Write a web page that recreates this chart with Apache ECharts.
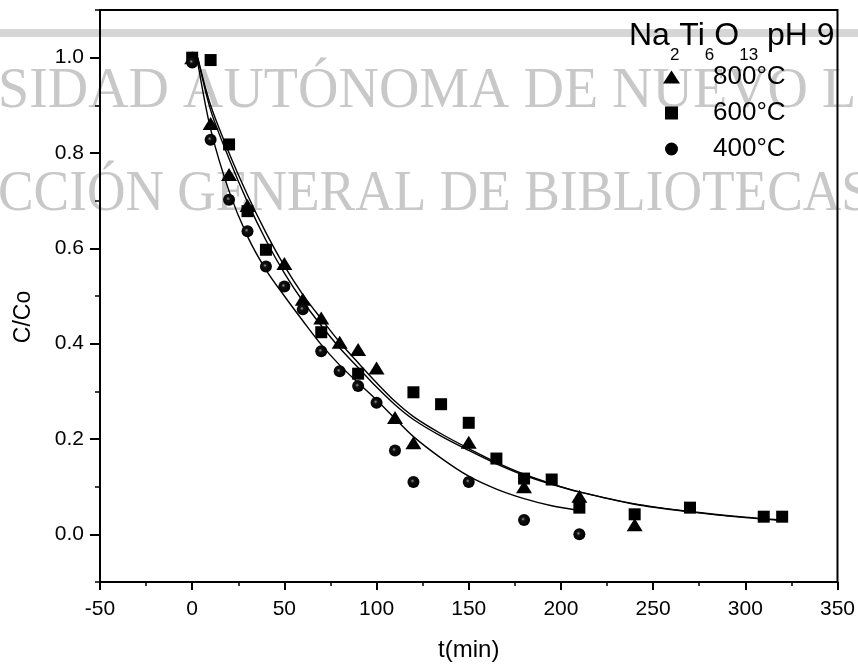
<!DOCTYPE html>
<html><head><meta charset="utf-8">
<script src="https://cdn.jsdelivr.net/npm/echarts@6/dist/echarts.min.js"></script>
<style>html,body{margin:0;padding:0;background:#fff}#c{width:858px;height:670px}</style>
</head><body><div id="c"></div>
<script>
// ---- data ----
const legendNames = ['800°C', '600°C', '400°C'];
const t800 = [0, 10, 20, 30, 50, 60, 70, 80, 90, 100, 110, 120, 150, 180, 210, 240];
const c800 = [1.0, 0.862, 0.755, 0.690, 0.568, 0.493, 0.454, 0.403, 0.388, 0.349, 0.245, 0.192, 0.193, 0.100, 0.080, 0.020];
const t600 = [0, 10, 20, 30, 40, 70, 90, 120, 135, 150, 165, 180, 195, 210, 240, 270, 310, 320];
const c600 = [1.0, 0.995, 0.818, 0.678, 0.597, 0.424, 0.337, 0.298, 0.273, 0.234, 0.159, 0.117, 0.115, 0.056, 0.042, 0.056, 0.037, 0.037];
const t400 = [0, 10, 20, 30, 40, 50, 60, 70, 80, 90, 100, 110, 120, 150, 180, 210];
const c400 = [0.99, 0.828, 0.702, 0.636, 0.562, 0.520, 0.472, 0.384, 0.342, 0.311, 0.276, 0.176, 0.110, 0.110, 0.030, 0.0];
// fitted curves
const tFitA = [3, 10, 20, 30, 40, 50, 60, 70, 80, 90, 100, 110, 120, 135, 150, 165, 180, 195, 210, 240, 270, 300, 320];
const fit800 = [1.0, 0.90, 0.80, 0.712, 0.633, 0.563, 0.503, 0.452, 0.403, 0.36, 0.318, 0.279, 0.247, 0.211, 0.18, 0.151, 0.126, 0.106, 0.089, 0.063, 0.047, 0.035, 0.029];
const fit600 = [1.0, 0.89, 0.788, 0.697, 0.617, 0.548, 0.489, 0.438, 0.391, 0.35, 0.309, 0.272, 0.241, 0.206, 0.176, 0.148, 0.124, 0.105, 0.089, 0.064, 0.048, 0.036, 0.030];
const tFitB = [3, 10, 20, 30, 40, 50, 60, 70, 80, 90, 100, 110, 120, 135, 150, 165, 180, 195, 210];
const fit400 = [0.99, 0.85, 0.72, 0.625, 0.555, 0.50, 0.448, 0.398, 0.355, 0.318, 0.282, 0.243, 0.205, 0.16, 0.122, 0.095, 0.075, 0.06, 0.05];
const yTickLabels = [0, 0.2, 0.4, 0.6, 0.8, 1.0];
const yMinorTicks = [-0.1, 0.1, 0.3, 0.5, 0.7, 0.9, 1.1];
// title pieces: [text, isSubscript]
const titleParts = [['Na', false], ['2', true], ['Ti', false], ['6', true], ['O', false], ['13', true], [' pH 9', false]];
const watermark1 = 'SIDAD AUTÓNOMA DE NUEVO L';
const watermark2 = 'CCIÓN GENERAL DE BIBLIOTECAS';

const pairs = (xs, ys) => xs.map((x, i) => [x, ys[i]]);
const FONT = 'Liberation Sans';

// build title as a row of text pieces (main + subscripts)
const mctx = document.createElement('canvas').getContext('2d');
const titleEls = [];
(function () {
  let x = 629;
  const mainSize = 32, subSize = 17, mainBase = 47, subBase = 61;
  titleParts.forEach(([txt, sub]) => {
    const size = sub ? subSize : mainSize;
    const font = size + 'px "' + FONT + '"';
    mctx.font = font;
    const base = sub ? subBase : mainBase;
    titleEls.push({
      type: 'text', z: 50, x: x, y: base - 0.3465 * size,
      style: { text: txt, font: font, fill: '#000', verticalAlign: 'middle' }
    });
    x += mctx.measureText(txt).width;
  });
})();

const chart = echarts.init(document.getElementById('c'), null, { renderer: 'canvas' });
const fitLine = (name, xs, ys) => ({
  name, type: 'line', data: pairs(xs, ys), showSymbol: false, smooth: 0.3,
  lineStyle: { color: '#000', width: 1.4 }, silent: true, z: 2
});
const circleFill = {
  type: 'radial', x: 0.42, y: 0.42, r: 0.55,
  colorStops: [{ offset: 0, color: '#9a9a9a' }, { offset: 0.28, color: '#111' }, { offset: 1, color: '#000' }]
};

chart.setOption({
  animation: false,
  backgroundColor: '#fff',
  grid: { left: 100, right: 19, top: 10, bottom: 88, show: true, borderColor: '#000', borderWidth: 2, backgroundColor: 'transparent' },
  graphic: [
    { type: 'rect', z: -10, silent: true, shape: { x: 0, y: 29, width: 858, height: 8 }, style: { fill: '#d6d6d6' } },
    { type: 'text', z: -10, silent: true, x: -2, y: 92, scaleX: 0.965,
      style: { text: watermark1, font: '58px "Liberation Serif"', fill: '#c8c8c8', verticalAlign: 'middle' } },
    { type: 'text', z: -10, silent: true, x: -2, y: 195, scaleX: 0.92,
      style: { text: watermark2, font: '58px "Liberation Serif"', fill: '#c8c8c8', verticalAlign: 'middle' } }
  ].concat(titleEls),
  legend: {
    orient: 'vertical', left: 663, top: 64, padding: 0, itemGap: 10, itemWidth: 17, itemHeight: 13,
    textStyle: { fontSize: 26, fontFamily: FONT, color: '#000', lineHeight: 26, padding: [0, 0, 0, 28] },
    data: [
      { name: legendNames[0], icon: 'triangle', itemStyle: { color: '#000' } },
      { name: legendNames[1], icon: 'path://M0,0h10v10h-10z', itemStyle: { color: '#000' } },
      { name: legendNames[2], icon: 'circle', itemStyle: { color: '#000' } }
    ]
  },
  xAxis: {
    type: 'value', min: -50, max: 350, interval: 50,
    axisLine: { onZero: false, lineStyle: { color: '#000', width: 2 } },
    axisTick: { length: 8, lineStyle: { color: '#000', width: 2 } },
    minorTick: { show: true, splitNumber: 2, length: 4, lineStyle: { color: '#000', width: 1.5 } },
    splitLine: { show: false },
    axisLabel: { fontSize: 21, fontFamily: FONT, color: '#000', margin: 17 },
    name: 't(min)', nameLocation: 'middle', nameGap: 56,
    nameTextStyle: { fontSize: 24, fontFamily: FONT, color: '#000' }
  },
  yAxis: [
    {
      type: 'value', min: -0.1, max: 1.1,
      axisLine: { show: true, onZero: false, lineStyle: { color: '#000', width: 2 } },
      axisTick: { show: true, customValues: yTickLabels, length: 10, lineStyle: { color: '#000', width: 2 } },
      axisLabel: { customValues: yTickLabels, formatter: v => v.toFixed(1), fontSize: 21, fontFamily: FONT, color: '#000', margin: 16 },
      splitLine: { show: false },
      name: 'C/Co', nameLocation: 'middle', nameRotate: 90, nameGap: 65,
      nameTextStyle: { fontSize: 23, fontFamily: FONT, color: '#000', padding: [0, 42, 0, 0] }
    },
    {
      type: 'value', min: -0.1, max: 1.1, position: 'left',
      axisLine: { show: false, onZero: false },
      axisTick: { show: true, customValues: yMinorTicks, length: 5, lineStyle: { color: '#000', width: 1.5 } },
      axisLabel: { show: false },
      splitLine: { show: false }
    }
  ],
  series: [
    fitLine('fit 800', tFitA, fit800),
    fitLine('fit 600', tFitA, fit600),
    fitLine('fit 400', tFitB, fit400),
    { name: legendNames[0], type: 'scatter', data: pairs(t800, c800), symbol: 'triangle', symbolSize: [16, 13], itemStyle: { color: '#000', opacity: 1 }, z: 3 },
    { name: legendNames[1], type: 'scatter', data: pairs(t600, c600), symbol: 'rect', symbolSize: 12, itemStyle: { color: '#000', opacity: 1 }, z: 3 },
    { name: legendNames[2], type: 'scatter', data: pairs(t400, c400), symbol: 'circle', symbolSize: 12, itemStyle: { color: circleFill, opacity: 1 }, z: 3 }
  ]
});
</script>
</body></html>
